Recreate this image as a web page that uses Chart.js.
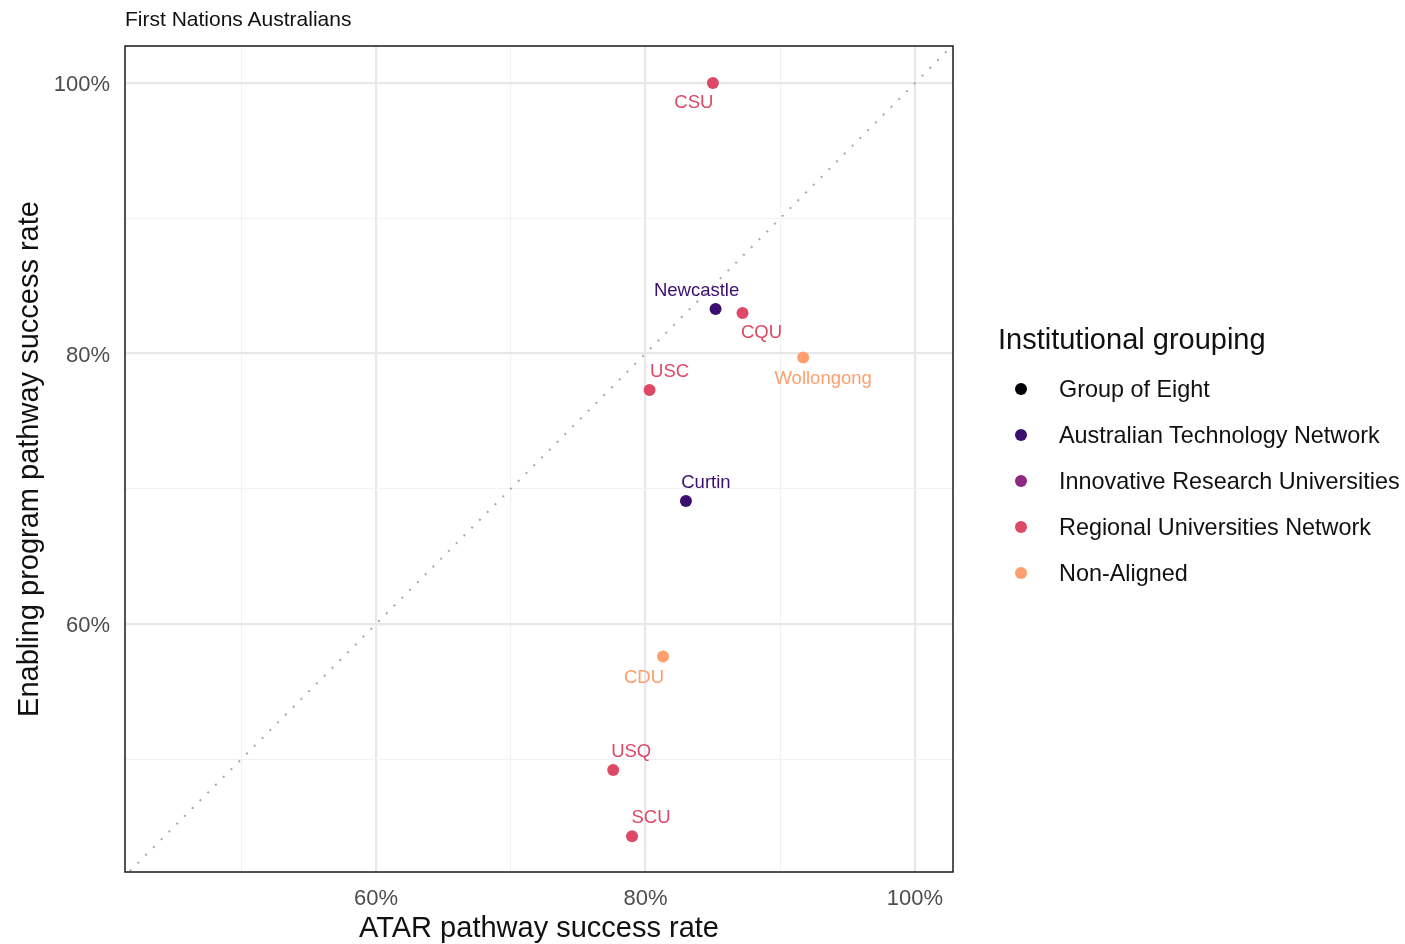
<!DOCTYPE html>
<html>
<head>
<meta charset="utf-8">
<script src="https://cdn.jsdelivr.net/npm/chart.js@4/dist/chart.umd.min.js"></script>
<style>
  html, body { margin: 0; padding: 0; background: #fff; }
  body { width: 1405px; height: 944px; position: relative; overflow: hidden; font-family: "Liberation Sans", Arial, sans-serif; }
  #c { position: absolute; left: 0; top: 0; }
  #title { position: absolute; left: 125px; top: 6px; font-size: 21px; color: #111; line-height: 26px; white-space: nowrap; }
  #legend { position: absolute; left: 998px; top: 0; }
  .lg-title { position: absolute; left: 0; top: 319px; font-size: 29px; line-height: 40px; color: #111; white-space: nowrap; }
  .lg-item { position: absolute; left: 0; height: 30px; white-space: nowrap; }
  .lg-dot { position: absolute; left: 17px; top: 9px; width: 12px; height: 12px; border-radius: 50%; }
  .lg-text { position: absolute; left: 61px; top: 0; font-size: 23.4px; line-height: 30px; color: #111; }
</style>
</head>
<body>
<canvas id="c" width="1405" height="944"></canvas>
<div id="title">First Nations Australians</div>
<div id="legend"></div>
<script>
// ---- Data ----
const chartTitle = 'First Nations Australians';
const xAxisTitle = 'ATAR pathway success rate';
const yAxisTitle = 'Enabling program pathway success rate';
const legendTitle = 'Institutional grouping';
const groupNames = ['Group of Eight', 'Australian Technology Network', 'Innovative Research Universities', 'Regional Universities Network', 'Non-Aligned'];
const groupColors = ['#000004', '#3B0F70', '#8C2981', '#DE4968', '#FE9F6D'];
const universities = ['CSU', 'Newcastle', 'CQU', 'Wollongong', 'USC', 'Curtin', 'CDU', 'USQ', 'SCU'];
const universityGroup = ['Regional Universities Network', 'Australian Technology Network', 'Regional Universities Network', 'Non-Aligned', 'Regional Universities Network', 'Australian Technology Network', 'Non-Aligned', 'Regional Universities Network', 'Regional Universities Network'];
const atarRate = [85.0, 85.2, 87.2, 91.7, 80.3, 83.0, 81.3, 77.6, 79.0];
const enablingRate = [100.0, 83.3, 83.0, 79.7, 77.3, 69.1, 57.6, 49.2, 44.3];
const tickValues = [50, 60, 70, 80, 90, 100];
const labelledTicks = [60, 80, 100];
const parityLine = [40, 105];

// ---- Label placement (pixel offsets from point) ----
const labelOffsets = {
  'CSU': [-19, 20], 'Newcastle': [-19, -18], 'CQU': [19, 20], 'Wollongong': [20, 21],
  'USC': [20, -18], 'Curtin': [20, -18], 'CDU': [-19, 21], 'USQ': [18, -18], 'SCU': [19, -18]
};

// ---- Datasets ----
const FONT = '"Liberation Sans", Arial, sans-serif';
const datasets = groupNames.map((g, gi) => {
  const pts = [];
  universities.forEach((u, i) => {
    if (universityGroup[i] === g) pts.push({ x: atarRate[i], y: enablingRate[i], name: u });
  });
  return {
    type: 'scatter', label: g, data: pts,
    backgroundColor: groupColors[gi], borderColor: groupColors[gi],
    pointRadius: 6, pointHoverRadius: 6, borderWidth: 0, order: 1
  };
});
datasets.push({
  type: 'line', label: 'parity', data: parityLine.map(v => ({ x: v, y: v })),
  borderColor: '#a8a8a8', borderWidth: 2, borderDash: [2, 9], pointRadius: 0, fill: false, order: 2
});

const labelPlugin = {
  id: 'pointLabels',
  afterDatasetsDraw(chart) {
    const ctx = chart.ctx;
    ctx.save();
    ctx.font = '18.5px ' + FONT;
    ctx.textAlign = 'center';
    ctx.textBaseline = 'middle';
    chart.data.datasets.forEach((ds, di) => {
      if (ds.type !== 'scatter') return;
      const meta = chart.getDatasetMeta(di);
      meta.data.forEach((el, i) => {
        const name = ds.data[i].name;
        const off = labelOffsets[name] || [0, -18];
        ctx.fillStyle = ds.backgroundColor;
        ctx.fillText(name, el.x + off[0], el.y + off[1]);
      });
    });
    ctx.restore();
  }
};

const borderPlugin = {
  id: 'panelBorder',
  afterDraw(chart) {
    const { left, right, top, bottom } = chart.chartArea;
    const ctx = chart.ctx;
    ctx.save();
    ctx.strokeStyle = '#1a1a1a';
    ctx.lineWidth = 1.5;
    ctx.strokeRect(left, top, right - left, bottom - top);
    ctx.restore();
  }
};

const gridColor = c => (c.tick && labelledTicks.includes(c.tick.value)) ? '#e8e8e8' : '#f2f2f2';
const gridWidth = c => (c.tick && labelledTicks.includes(c.tick.value)) ? 2.2 : 1.1;
const tickCb = v => labelledTicks.includes(v) ? v + '%' : '';

new Chart(document.getElementById('c'), {
  data: { datasets },
  options: {
    responsive: false, animation: false,
    layout: { padding: { left: 0, right: 452, top: 46, bottom: 0 } },
    plugins: { legend: { display: false }, tooltip: { enabled: false } },
    scales: {
      x: {
        type: 'linear', min: 41.37, max: 102.82,
        afterBuildTicks: s => { s.ticks = tickValues.map(v => ({ value: v })); },
        afterFit: s => { s.height = 72; },
        grid: { color: gridColor, lineWidth: gridWidth, drawTicks: false },
        border: { display: false },
        ticks: { callback: tickCb, color: '#4d4d4d', font: { size: 22, family: FONT }, padding: 14, maxRotation: 0, autoSkip: false },
        title: { display: true, text: xAxisTitle, color: '#111', font: { size: 29, family: FONT, lineHeight: 1.05 }, padding: { top: 0, bottom: 0 } }
      },
      y: {
        type: 'linear', min: 41.66, max: 102.74,
        afterBuildTicks: s => { s.ticks = tickValues.map(v => ({ value: v })); },
        afterFit: s => { s.width = 125; },
        grid: { color: gridColor, lineWidth: gridWidth, drawTicks: false },
        border: { display: false },
        ticks: { callback: tickCb, color: '#4d4d4d', font: { size: 22, family: FONT }, padding: 15, labelOffset: 2, autoSkip: false },
        title: { display: true, text: yAxisTitle, color: '#111', font: { size: 29, family: FONT }, padding: { top: 13, bottom: 0 } }
      }
    }
  },
  plugins: [labelPlugin, borderPlugin]
});

// ---- HTML legend ----
const legend = document.getElementById('legend');
const lt = document.createElement('div');
lt.className = 'lg-title'; lt.textContent = legendTitle;
legend.appendChild(lt);
groupNames.forEach((g, i) => {
  const item = document.createElement('div');
  item.className = 'lg-item';
  item.style.top = (374 + 46 * i) + 'px';
  const dot = document.createElement('div');
  dot.className = 'lg-dot'; dot.style.background = groupColors[i];
  const t = document.createElement('div');
  t.className = 'lg-text'; t.textContent = g;
  item.appendChild(dot); item.appendChild(t);
  legend.appendChild(item);
});
</script>
</body>
</html>
